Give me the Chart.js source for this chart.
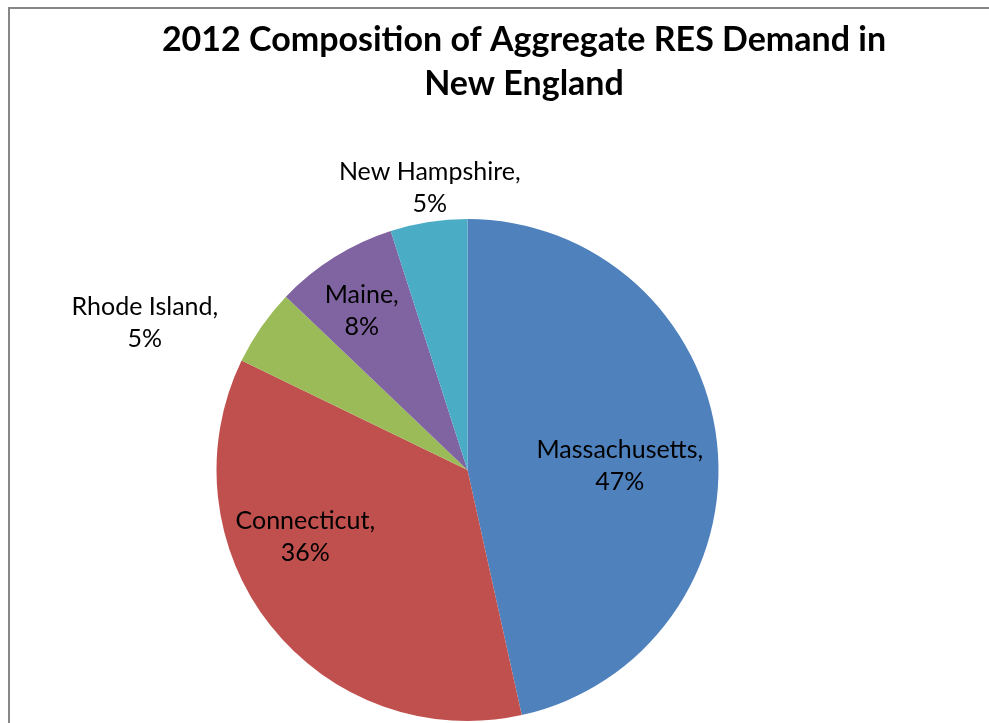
<!DOCTYPE html>
<html>
<head>
<meta charset="utf-8">
<script src="https://cdn.jsdelivr.net/npm/chart.js@4.4.1/dist/chart.umd.min.js"></script>
<style>
  html, body { margin: 0; padding: 0; background: #fff; }
  #wrap { width: 989px; height: 723px; position: relative; }
</style>
</head>
<body>
<div id="wrap"><canvas id="resChart"></canvas></div>
<script>
// 2012 share of aggregate RES demand by state (percent, as labelled)
const states = ['Massachusetts', 'Connecticut', 'Rhode Island', 'Maine', 'New Hampshire'];
const shares = [47, 36, 5, 8, 5];
const sliceColors = ['#4F81BD', '#C0504D', '#9BBB59', '#8064A2', '#4BACC6'];
const titleLines = ['2012 Composition of Aggregate RES Demand in', 'New England'];

// where each label sits: fraction of the radius, and a nudge off the slice middle (degrees)
const labelRadius = [0.607, 0.699, 1.412, 0.76, 1.134];
const labelShift = [4.7, 15.9, -10.3, -1.6, 1.3];

const LABEL_FONT = '25px Lato, "Open Sans", sans-serif';
const TITLE_FONT = 'bold 34px Lato, "Open Sans", sans-serif';

// white page, grey frame on the top and left, and the two-line title
const frame = {
  id: 'frame',
  beforeDraw(chart) {
    const c = chart.ctx;
    c.save();
    c.fillStyle = '#fff';
    c.fillRect(0, 0, chart.width, chart.height);
    c.strokeStyle = '#878787';
    c.lineWidth = 2;
    c.beginPath();
    c.moveTo(9, chart.height + 2);
    c.lineTo(9, 8);
    c.lineTo(chart.width + 2, 8);
    c.stroke();

    c.font = TITLE_FONT;
    c.fillStyle = '#000';
    c.textAlign = 'center';
    c.textBaseline = 'middle';
    titleLines.forEach((t, i) => c.fillText(t, 524, 40 + i * 44));
    c.restore();
  }
};

// "State,\nNN%" labels placed from each arc's own geometry
const sliceLabels = {
  id: 'sliceLabels',
  afterDatasetsDraw(chart) {
    const c = chart.ctx;
    const arcs = chart.getDatasetMeta(0).data;
    c.save();
    c.font = LABEL_FONT;
    c.fillStyle = '#000';
    c.textAlign = 'center';
    c.textBaseline = 'middle';
    arcs.forEach((arc, i) => {
      const mid = (arc.startAngle + arc.endAngle) / 2 + labelShift[i] * Math.PI / 180;
      const r = arc.outerRadius * labelRadius[i];
      const x = arc.x + Math.cos(mid) * r;
      const y = arc.y + Math.sin(mid) * r;
      c.fillText(states[i] + ',', x, y - 16);
      c.fillText(shares[i] + '%', x, y + 16);
    });
    c.restore();
  }
};

new Chart(document.getElementById('resChart'), {
  type: 'pie',
  data: {
    labels: states,
    datasets: [{ data: shares, backgroundColor: sliceColors, borderWidth: 0 }]
  },
  options: {
    responsive: true,
    maintainAspectRatio: false,
    animation: false,
    layout: { padding: { top: 219, bottom: 2, left: 0, right: 54 } },
    plugins: {
      legend: { display: false },
      tooltip: { enabled: false },
      title: { display: false }
    }
  },
  plugins: [frame, sliceLabels]
});
</script>
</body>
</html>
